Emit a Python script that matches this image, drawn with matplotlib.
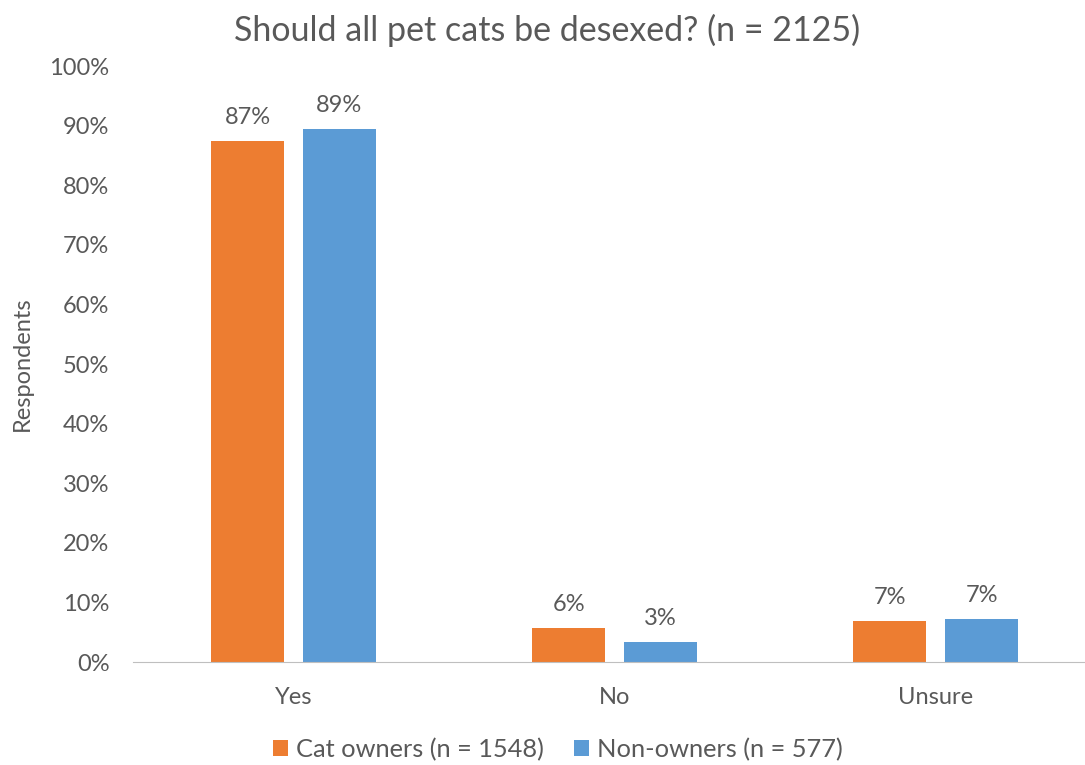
import matplotlib.pyplot as plt
import numpy as np

plt.rcParams['font.family'] = ['Lato', 'DejaVu Sans']

categories = ['Yes', 'No', 'Unsure']
owners = [87.4, 5.7, 6.9]
non_owners = [89.4, 3.4, 7.2]
series_names = ['Cat owners (n = 1548)', 'Non-owners (n = 577)']

text_col = '#595959'
orange = '#ED7D31'
blue = '#5B9BD5'

fig = plt.figure(figsize=(10.85, 7.65), dpi=100)
ax = fig.add_axes([0.1226, 0.1346, 0.8774, 0.7791])

x = np.arange(len(categories))
w = 0.228
b1 = ax.bar(x - 0.143, owners, w, color=orange, label=series_names[0])
b2 = ax.bar(x + 0.143, non_owners, w, color=blue, label=series_names[1])

for bars in (b1, b2):
    for r in bars:
        h = r.get_height()
        ax.text(r.get_x() + r.get_width() / 2, h + 2.2, f'{h:.0f}%',
                ha='center', va='bottom', fontsize=17, color=text_col)

ax.set_xlim(-0.5, 2.465)
ax.set_ylim(0, 100)
ax.set_yticks(range(0, 101, 10))
ax.set_yticklabels([f'{v}%' for v in range(0, 101, 10)])
ax.set_xticks(x)
ax.set_xticklabels(categories)
ax.tick_params(axis='both', length=0, labelsize=17, colors=text_col)
ax.tick_params(axis='x', pad=18)
ax.tick_params(axis='y', pad=17)
for s in ['top', 'right', 'left']:
    ax.spines[s].set_visible(False)
ax.spines['bottom'].set_color('#BFBFBF')

ax.set_ylabel('Respondents', fontsize=17, color=text_col, labelpad=12)
fig.text(0.504, 0.96, 'Should all pet cats be desexed? (n = 2125)',
         ha='center', va='center', fontsize=24.5, color=text_col)

fig.legend(loc='center', bbox_to_anchor=(0.514, 0.02), ncol=2, frameon=False,
           fontsize=18.3, labelcolor=text_col, handlelength=0.6, handleheight=0.6,
           columnspacing=1.2, handletextpad=0.3)

fig.savefig('out.png', dpi=100)
